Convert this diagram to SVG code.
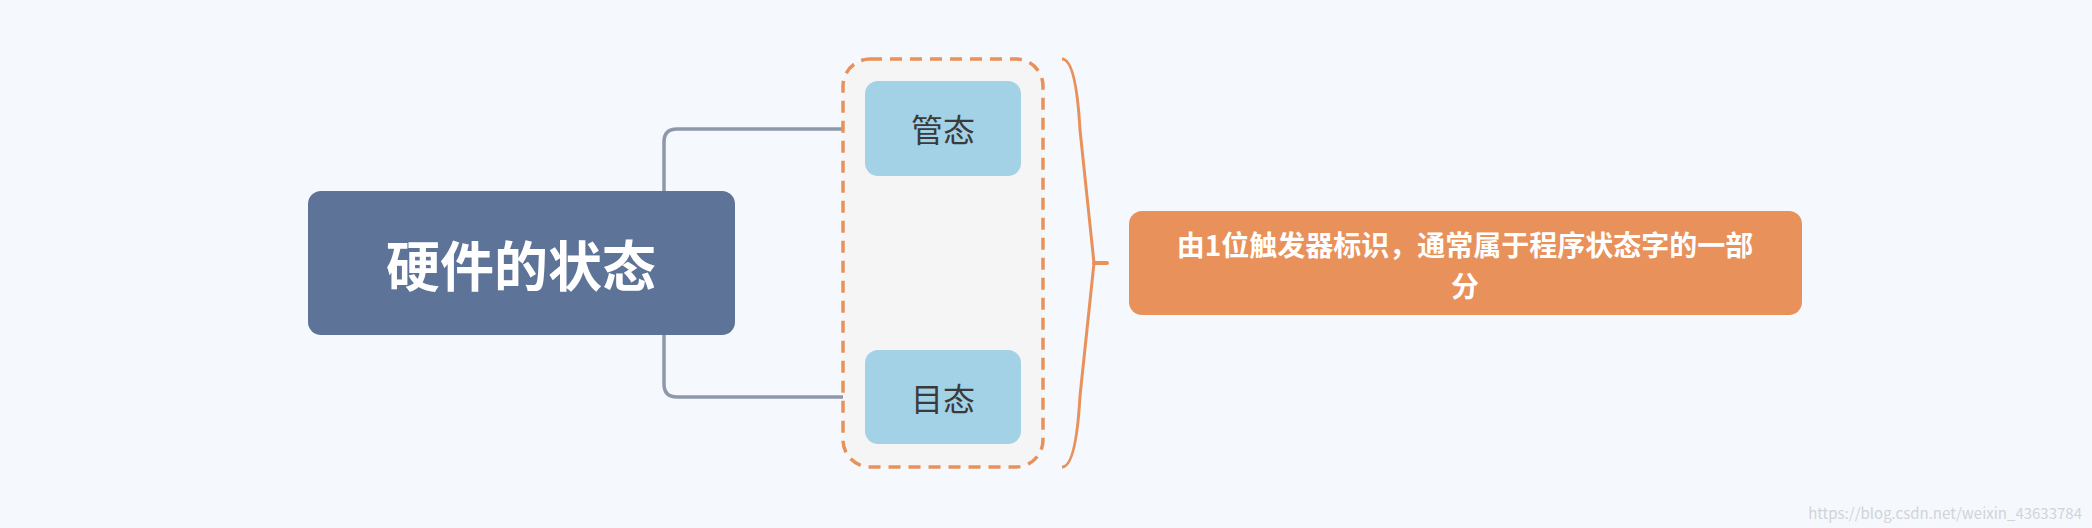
<svg xmlns="http://www.w3.org/2000/svg" width="2092" height="528" viewBox="0 0 2092 528">
<style>
text{font-family:"Noto Sans CJK SC","Liberation Sans",sans-serif;text-anchor:middle;dominant-baseline:central}
.conn{fill:none;stroke:#8e98a9;stroke-width:3.5}
.child{fill:#a3d1e6}
.ct{font-size:32px;fill:#3a3a3a}
</style>
<rect width="2092" height="528" fill="#f5f9fd"/>
<g id="connectors">
<path class="conn" d="M664 191 V142 Q664 129 677 129 H865"/>
<path class="conn" d="M664 335 V384 Q664 397 677 397 H865"/>
<path d="M1062 59 Q1076 59 1080 130 Q1094 263 1094 263 Q1094 263 1080 396 Q1076 467 1062 467" fill="none" stroke="#e9915a" stroke-width="3"/>
<path d="M1094 263 H1107" stroke="#e9915a" stroke-width="4" stroke-linecap="round"/>
</g>
<g id="boundary">
<rect x="843" y="59" width="200" height="408" rx="27" fill="#f5f5f5" stroke="#e9915a" stroke-width="3.5" stroke-dasharray="12 8"/>
</g>
<g id="root">
<rect x="308" y="191" width="427" height="144" rx="13" fill="#5e7398"/>
<text x="521" y="263" font-size="54" font-weight="bold" fill="#fff">硬件的状态</text>
</g>
<g id="n1">
<rect class="child" x="865" y="81" width="156" height="95" rx="13"/>
<text class="ct" x="943" y="128">管态</text>
</g>
<g id="n2">
<rect class="child" x="865" y="350" width="156" height="94" rx="13"/>
<text class="ct" x="943" y="397">目态</text>
</g>
<g id="summary">
<rect x="1129" y="211" width="673" height="104" rx="13" fill="#e9915a"/>
<text x="1465" y="244" font-size="28" font-weight="bold" fill="#fff">由1位触发器标识，通常属于程序状态字的一部</text>
<text x="1465" y="285" font-size="28" font-weight="bold" fill="#fff">分</text>
</g>
<text x="2082" y="512" font-size="15" fill="#d0d4da" style="text-anchor:end">https://blog.csdn.net/weixin_43633784</text>
</svg>
